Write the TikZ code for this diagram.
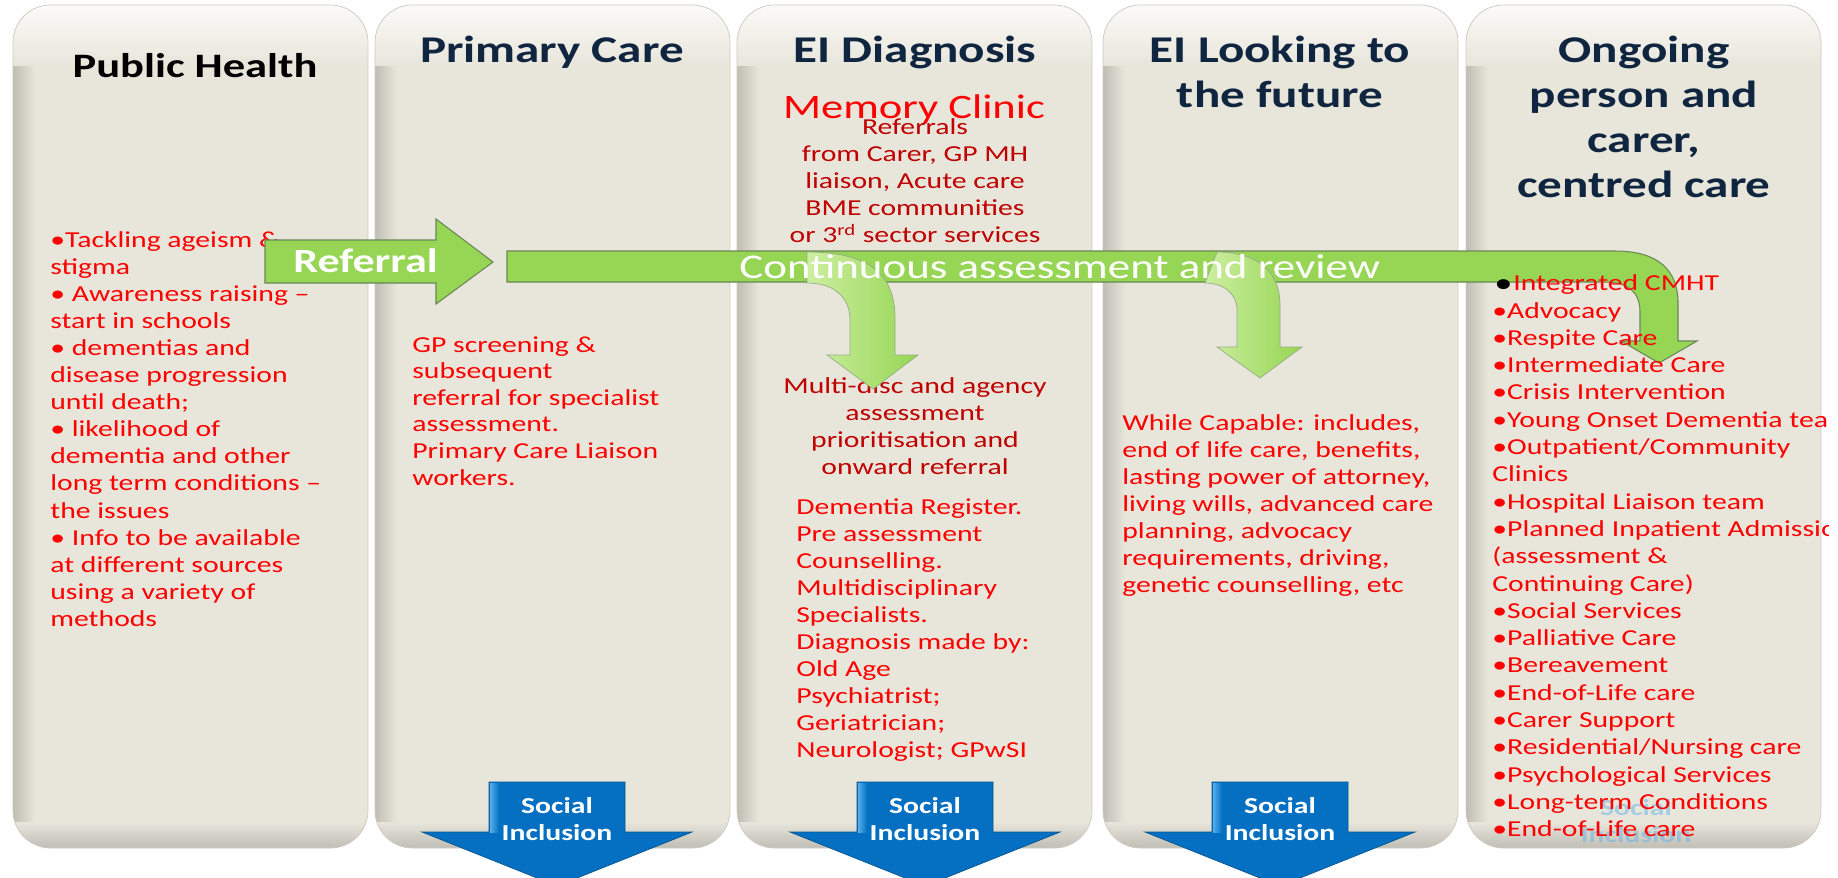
\documentclass[tikz,border=0pt]{standalone}
\usepackage{fontspec}
\setmainfont{Carlito}[FakeStretch=1.3]
\usetikzlibrary{calc}
\definecolor{colmain}{RGB}{232,230,219}
\definecolor{coledge}{RGB}{192,190,180}
\definecolor{colline}{RGB}{205,203,195}
\definecolor{titleblue}{RGB}{16,37,63}
\definecolor{darkred}{RGB}{192,0,0}
\definecolor{grnmain}{RGB}{150,214,84}
\definecolor{grnlight}{RGB}{205,238,160}
\definecolor{grnedge}{RGB}{105,135,85}
\definecolor{bluearr}{RGB}{5,112,194}
\definecolor{bluelight}{RGB}{85,175,235}
\tikzset{>=latex,
  title/.style={anchor=base, inner sep=0pt, text=titleblue, font=\fontsize{21.5}{26}\bfseries\selectfont},
  body/.style={anchor=base west, inner sep=0pt, text=red, font=\fontsize{13}{15}\selectfont},
  bodyc/.style={anchor=base, inner sep=0pt, text=darkred, font=\fontsize{13}{15}\selectfont},
  grnarrow/.style={fill=grnmain, draw=grnedge, line width=0.6pt},
  grnbend/.style={left color=grnlight, right color=grnmain, draw=grnedge!70, line width=0.4pt},
  bluearrow/.style={fill=bluearr, draw=bluearr!75!black, line width=0.4pt},
  sitext/.style={anchor=base, inner sep=0pt, text=white, font=\fontsize{13}{15}\bfseries\selectfont}
}

\begin{document}
\begin{tikzpicture}[x=0.02cm, y=-0.02cm]
\useasboundingbox (0,0) rectangle (1838,877);
\fill[white] (0,0) rectangle (1838,877);

\foreach \x in {13,375,737,1103,1466} {
  \begin{scope}
    \clip[rounded corners=0.75cm] (\x,5) rectangle ++(355,843);
    \fill[colmain] (\x,5) rectangle ++(355,843);
    \shade[left color=coledge, right color=colmain] (\x,5) rectangle ++(22,843);
    \shade[top color=white!80!colmain, bottom color=colmain] (\x,5) rectangle ++(355,60);
    \shade[top color=colmain, bottom color=coledge] (\x,822) rectangle ++(355,26);
  \end{scope}
  \draw[colline, rounded corners=0.75cm] (\x,5) rectangle ++(355,843);
}

\node[title, text=black, font=\fontsize{19.5}{24}\bfseries\selectfont] (ph) at (195,77) {Public Health};
\node[title] (pc) at (552,62) {Primary Care};
\node[title] (eid) at (915,62) {EI Diagnosis};
\node[title] (eil1) at (1280,62) {EI Looking to};
\node[title] (eil2) at (1280,107) {the future};
\foreach \t [count=\i] in {Ongoing, person and, {carer,}, centred care}
  \node[title] (og\i) at (1644,{62+45*(\i-1)}) {\t};

\foreach \t [count=\i] in {{•Tackling ageism \&}, stigma, {• Awareness raising –}, start in schools,
    {• dementias and}, disease progression, {until death;}, {• likelihood of}, dementia and other,
    {long term conditions –}, the issues, {• Info to be available}, at different sources,
    using a variety of, methods}
  \node[body] (ph\i) at (50,{247+27.1*(\i-1)}) {\t};

\foreach \t [count=\i] in {{GP screening \&}, subsequent, referral for specialist, {assessment.},
    Primary Care Liaison, {workers.}}
  \node[body] (pc\i) at (412,{352+26.6*(\i-1)}) {\t};

\node[anchor=base, inner sep=0pt, text=red, font=\fontsize{19.5}{23}\selectfont] (mc) at (914,118) {Memory Clinic};
\foreach \t [count=\i] in {Referrals, {from Carer, GP MH}, {liaison, Acute care}, BME communities,
    {or 3\textsuperscript{rd} sector services}}
  \node[bodyc] (ref\i) at (915,{134+27.2*(\i-1)}) {\t};
\foreach \t [count=\i] in {Multi-disc and agency, assessment, prioritisation and, onward referral}
  \node[bodyc] (md\i) at (915,{393+27*(\i-1)}) {\t};
\foreach \t [count=\i] in {{Dementia Register.}, Pre assessment, {Counselling.}, Multidisciplinary,
    {Specialists.}, {Diagnosis made by:}, Old Age, {Psychiatrist;}, {Geriatrician;}, {Neurologist; GPwSI}}
  \node[body] (dx\i) at (796,{514+27.1*(\i-1)}) {\t};

\foreach \t [count=\i] in {{While Capable: includes,}, {end of life care, benefits,},
    {lasting power of attorney,}, {living wills, advanced care}, {planning, advocacy},
    {requirements, driving,}, {genetic counselling, etc}}
  \node[body] (wc\i) at (1122,{430+27*(\i-1)}) {\t};

\node[sitext, text=bluelight, opacity=0.45] (ghost1) at (1636,815) {Social};
\node[sitext, text=bluelight, opacity=0.45] (ghost2) at (1636,842) {Inclusion};

\draw[grnarrow] (265,240) -- (436,240) -- (436,219) -- (493,262) -- (436,304) -- (436,283) -- (265,283) -- cycle;
\node[anchor=base west, inner sep=0pt, text=white, font=\fontsize{19.3}{23}\bfseries\selectfont] (referral) at (293,272) {Referral};

\draw[grnarrow] (507,251) -- (1615,251) .. controls (1658,251) and (1678,270) .. (1678,303) -- (1678,341)
  -- (1697,341) -- (1659,363) -- (1621,341) -- (1640,341) -- (1640,312) .. controls (1640,292) and (1628,282) .. (1605,282)
  -- (507,282) -- cycle;
\draw[grnbend] (807,252) .. controls (870,252) and (895,275) .. (895,318) -- (895,355) -- (918,355) -- (873,389)
  -- (827,355) -- (850,355) -- (850,320) .. controls (850,298) and (835,283) .. (807,283) -- cycle;
\draw[grnbend] (1217,252) .. controls (1258,252) and (1280,272) .. (1280,305) -- (1280,347) -- (1302,347) -- (1260,378)
  -- (1217,347) -- (1237,347) -- (1237,310) .. controls (1237,294) and (1224,283) .. (1205,283) -- cycle;
\node[anchor=base west, inner sep=0pt, text=white, font=\fontsize{19.7}{24}\selectfont] (cont) at (739,278) {Continuous assessment and review};

\begin{scope}
  \clip (1466,5) rectangle (1828,877);
  \node[anchor=base west, inner sep=0pt, font=\fontsize{16}{18}\selectfont] (cmhtb) at (1494,292) {•};
  \node[body] (cmht) at (1513,290) {Integrated CMHT};
  \foreach \t [count=\i] in {•Advocacy, •Respite Care, •Intermediate Care, •Crisis Intervention,
      •Young Onset Dementia team, {•Outpatient/Community}, Clinics, •Hospital Liaison team,
      •Planned Inpatient Admission, {(assessment \&}, {Continuing Care)}, •Social Services,
      •Palliative Care, •Bereavement, •End-of-Life care, •Carer Support, {•Residential/Nursing care},
      •Psychological Services, •Long-term Conditions, •End-of-Life care}
    \node[body] (og\i) at (1492,{318+27.3*(\i-1)}) {\t};
\end{scope}

\foreach \cx/\nm in {557/si2, 925/si3, 1280/si4} {
  \draw[bluearrow] (\cx-68,782) -- (\cx+68,782) -- (\cx+68,832) -- (\cx+135,832) -- (\cx,886)
    -- (\cx-135,832) -- (\cx-68,832) -- cycle;
  \shade[left color=bluelight, right color=bluearr] (\cx-67,783) rectangle (\cx-58,832);
  \node[sitext] (\nm a) at (\cx,813) {Social};
  \node[sitext] (\nm b) at (\cx,840) {Inclusion};
}
\end{tikzpicture}
\end{document}
